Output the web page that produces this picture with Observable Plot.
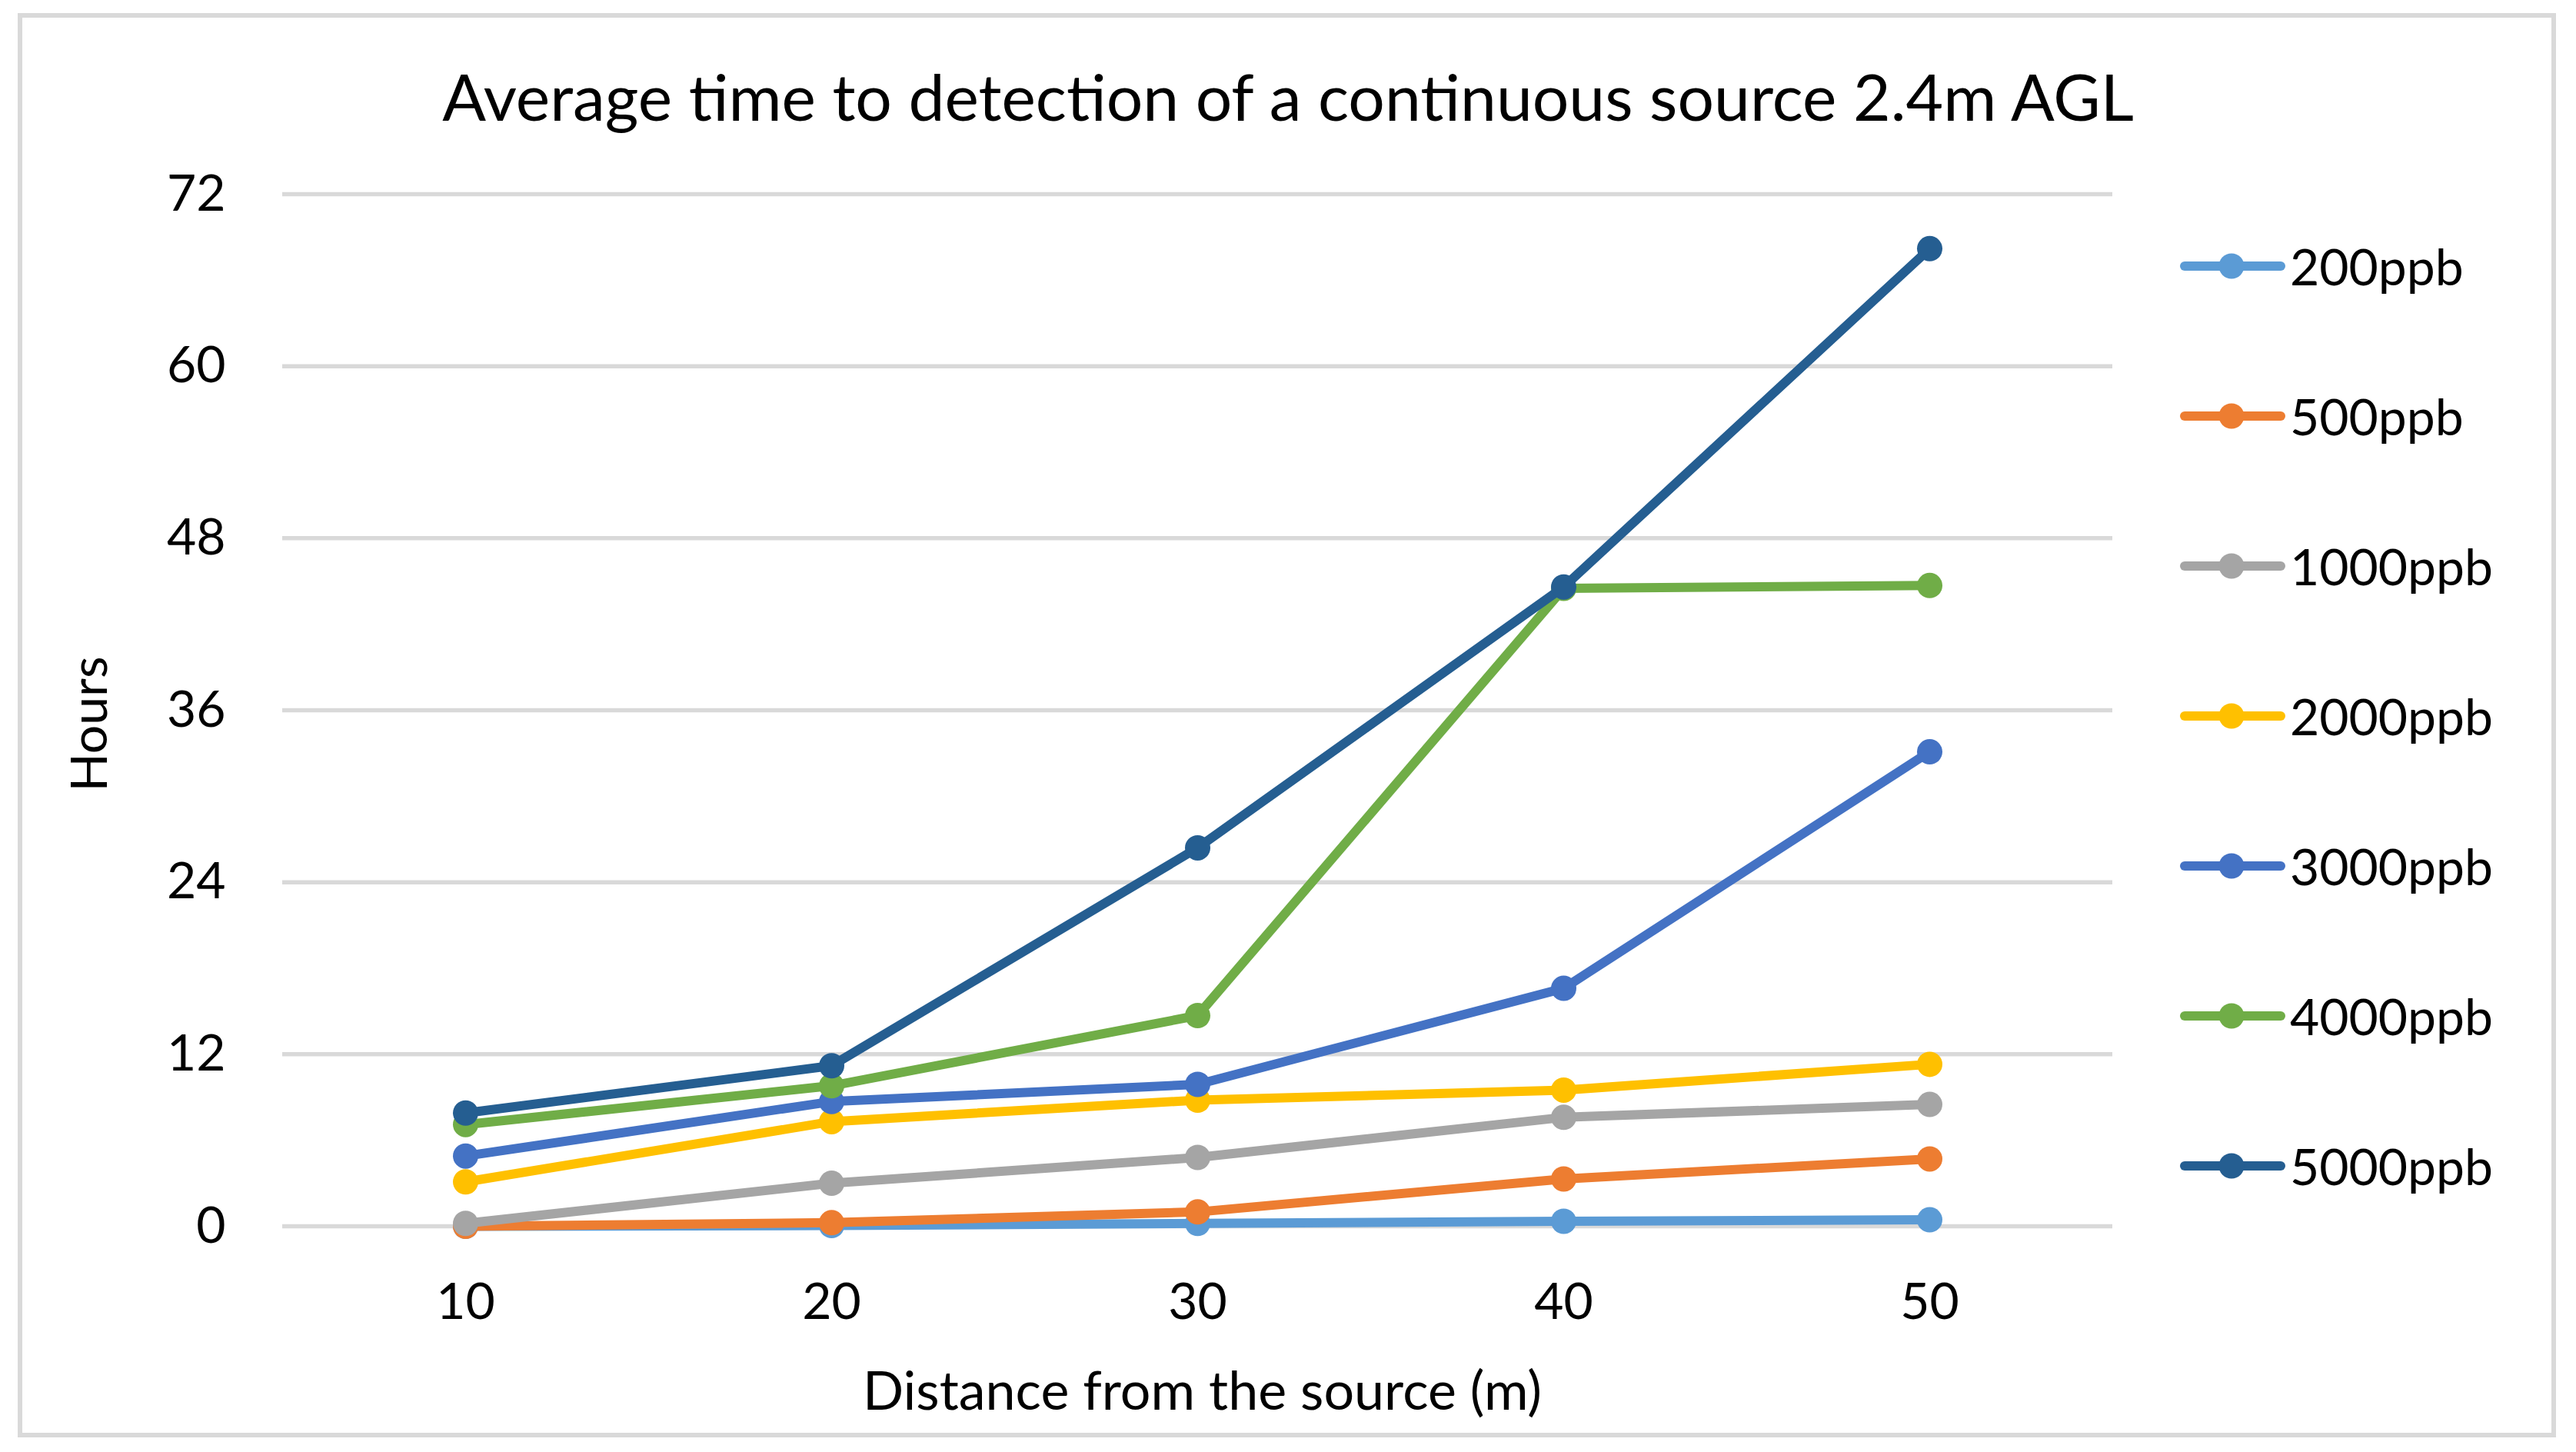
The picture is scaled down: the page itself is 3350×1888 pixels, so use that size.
<!DOCTYPE html>
<html>
<head>
<meta charset="utf-8">
<script src="https://cdn.jsdelivr.net/npm/d3@7"></script>
<script src="https://cdn.jsdelivr.net/npm/@observablehq/plot@0.6"></script>
<style>
  html, body { margin: 0; padding: 0; background: #fff; }
  #wrap { position: relative; width: 3350px; height: 1888px; overflow: hidden; font-family: Lato, "Open Sans", sans-serif; color: #000; }
  #frame { position: absolute; left: 23px; top: 17px; width: 3301px; height: 1852px; border: 6px solid #d9d9d9; box-sizing: border-box; }
  #title { position: absolute; left: 0; width: 3350px; top: 83px; text-align: center; font-size: 84px; line-height: 1; white-space: nowrap; }
  #chart { position: absolute; left: 0; top: 0; }
  #legend { position: absolute; left: 2835px; top: 0; }
  .item { position: absolute; left: 0; display: flex; align-items: center; height: 60px; white-space: nowrap; font-size: 66px; line-height: 1; }
  .item svg { display: block; margin-right: 6px; }
</style>
</head>
<body>
<div id="wrap">
  <div id="frame"></div>
  <div id="chart"></div>
  <div id="title"></div>
  <div id="legend"></div>
</div>
<script>
// ---- data ----
const titleText = "Average time to detection of a continuous source 2.4m AGL";
const xLabel = "Distance from the source (m)";
const yLabel = "Hours";
const distances = [10, 20, 30, 40, 50];
const yTicks = [0, 12, 24, 36, 48, 60, 72];
const seriesNames = ["200ppb", "500ppb", "1000ppb", "2000ppb", "3000ppb", "4000ppb", "5000ppb"];
const seriesColors = ["#5B9BD5", "#ED7D31", "#A5A5A5", "#FFC000", "#4472C4", "#70AD47", "#255E91"];
const v200  = [0, 0.05, 0.2, 0.35, 0.45];
const v500  = [0, 0.25, 1.0, 3.3, 4.7];
const v1000 = [0.2, 3.0, 4.8, 7.6, 8.5];
const v2000 = [3.1, 7.3, 8.8, 9.5, 11.3];
const v3000 = [4.9, 8.7, 9.9, 16.6, 33.1];
const v4000 = [7.1, 9.8, 14.7, 44.5, 44.7];
const v5000 = [7.9, 11.2, 26.4, 44.6, 68.2];
const seriesValues = [v200, v500, v1000, v2000, v3000, v4000, v5000];

// ---- table ----
const rows = seriesNames.flatMap((s, i) =>
  distances.map((d, j) => ({series: s, distance: d, hours: seriesValues[i][j]})));

const perSeries = seriesNames.flatMap(s => {
  const d = rows.filter(r => r.series === s);
  return [
    Plot.line(d, {x: "distance", y: "hours", stroke: "series", strokeWidth: 12, strokeLinecap: "round", strokeLinejoin: "round"}),
    Plot.dot(d, {x: "distance", y: "hours", fill: "series", r: 16.5, stroke: "none"})
  ];
});

const chart = Plot.plot({
  width: 3350,
  height: 1888,
  marginLeft: 367,
  marginRight: 603,
  marginTop: 252,
  marginBottom: 294,
  style: {fontFamily: "Lato, 'Open Sans', sans-serif", fontSize: "66px", color: "#000", background: "transparent"},
  x: {domain: [5, 55]},
  y: {domain: [0, 72]},
  color: {domain: seriesNames, range: seriesColors},
  marks: [
    Plot.gridY(yTicks, {stroke: "#d9d9d9", strokeOpacity: 1, strokeWidth: 5.5}),
    Plot.axisY(yTicks, {tickSize: 0, tickPadding: 74, label: null}),
    Plot.axisX(distances, {tickSize: 0, tickPadding: 74, label: null}),
    Plot.text([yLabel], {frameAnchor: "left", textAnchor: "middle", lineAnchor: "middle", rotate: -90, dx: -250, dy: 18, text: d => d, fontSize: 66}),
    Plot.text([xLabel], {frameAnchor: "bottom", textAnchor: "middle", lineAnchor: "middle", dy: 216, dx: 6, text: d => d, fontSize: 70}),
    ...perSeries
  ]
});
document.getElementById("chart").appendChild(chart);

document.getElementById("title").textContent = titleText;

// ---- legend ----
const legend = document.getElementById("legend");
const rowCenters0 = 346, rowStep = 195;
seriesNames.forEach((s, i) => {
  const item = document.createElement("div");
  item.className = "item";
  item.style.top = (rowCenters0 + i * rowStep - 30) + "px";
  const ns = "http://www.w3.org/2000/svg";
  const svg = document.createElementNS(ns, "svg");
  svg.setAttribute("width", 137); svg.setAttribute("height", 40);
  const ln = document.createElementNS(ns, "line");
  ln.setAttribute("x1", 6); ln.setAttribute("x2", 131); ln.setAttribute("y1", 20); ln.setAttribute("y2", 20);
  ln.setAttribute("stroke", seriesColors[i]); ln.setAttribute("stroke-width", 12); ln.setAttribute("stroke-linecap", "round");
  const c = document.createElementNS(ns, "circle");
  c.setAttribute("cx", 67); c.setAttribute("cy", 20); c.setAttribute("r", 16.5); c.setAttribute("fill", seriesColors[i]);
  svg.appendChild(ln); svg.appendChild(c);
  const t = document.createElement("span");
  t.textContent = s;
  item.appendChild(svg); item.appendChild(t);
  legend.appendChild(item);
});
</script>
</body>
</html>
